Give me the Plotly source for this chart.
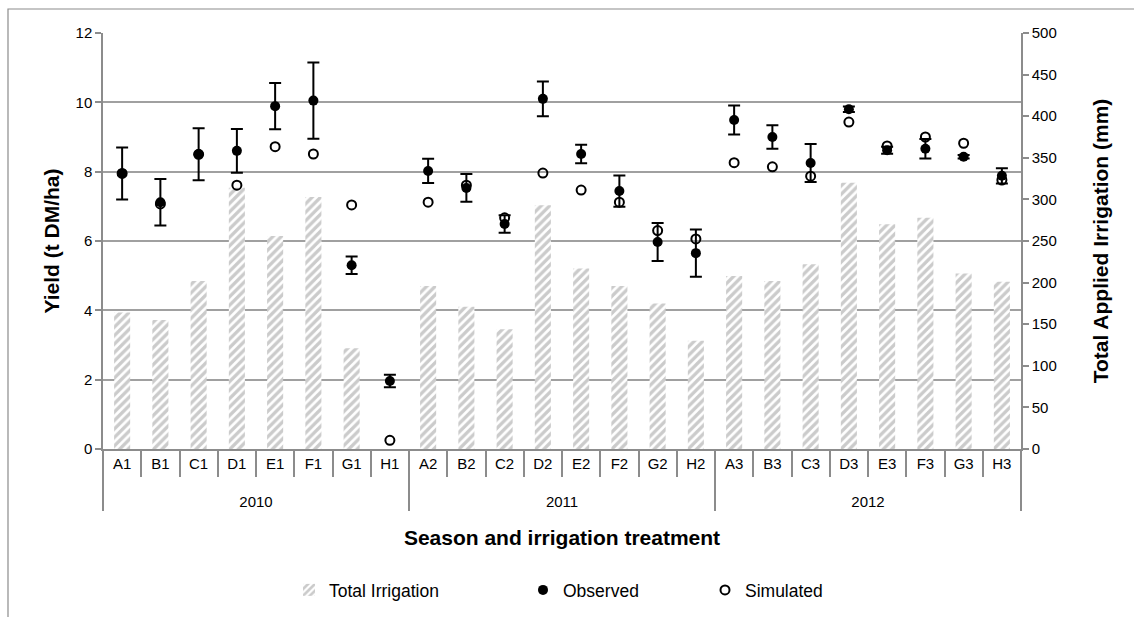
import plotly.graph_objects as go

years = ["2010"] * 8 + ["2011"] * 8 + ["2012"] * 8
treatments = ["A1", "B1", "C1", "D1", "E1", "F1", "G1", "H1",
              "A2", "B2", "C2", "D2", "E2", "F2", "G2", "H2",
              "A3", "B3", "C3", "D3", "E3", "F3", "G3", "H3"]

irrigation = [164, 155, 202, 314, 256, 303, 121, 0,
              196, 171, 144, 293, 217, 196, 175, 130,
              208, 202, 222, 320, 270, 278, 211, 201]

observed = [7.95, 7.12, 8.5, 8.6, 9.89, 10.05, 5.3, 1.96,
            8.02, 7.53, 6.49, 10.1, 8.51, 7.44, 5.97, 5.65,
            9.49, 9.0, 8.25, 9.8, 8.62, 8.66, 8.43, 7.88]

observed_err = [0.75, 0.67, 0.75, 0.63, 0.67, 1.1, 0.25, 0.18,
                0.35, 0.4, 0.25, 0.5, 0.27, 0.45, 0.55, 0.68,
                0.42, 0.34, 0.55, 0.08, 0.1, 0.28, 0.05, 0.22]

simulated = [7.95, 7.07, 8.5, 7.61, 8.72, 8.51, 7.04, 0.25,
             7.12, 7.61, 6.67, 7.96, 7.47, 7.12, 6.3, 6.06,
             8.26, 8.14, 7.87, 9.43, 8.74, 9.0, 8.82, 7.76]

FONT = "Liberation Sans, Arial, sans-serif"
GRID = "#a0a0a0"
AX = "#8c8c8c"

# plot-area geometry (px) used to place paper-referenced items
L, R, T, B = 103, 1021, 33, 449
PW, PH = R - L, B - T


def px_x(v):
    return (v - L) / PW


def px_y(v):
    return (B - v) / PH


# outer-level labels pushed one line lower (as in the reference layout)
year_labels = ["<br>" + y for y in years]
x = [year_labels, treatments]

fig = go.Figure()
fig.add_trace(go.Bar(
    x=x, y=irrigation, name="Total Irrigation", yaxis="y", legend="legend",
    marker=dict(color="white", line=dict(width=0),
                pattern=dict(shape="/", fgcolor="#979797", bgcolor="white",
                             size=6, solidity=0.55)),
))
fig.add_trace(go.Scatter(
    x=x, y=observed, name="Observed", yaxis="y2", mode="markers",
    legend="legend2",
    marker=dict(symbol="circle", size=10, color="black"),
    error_y=dict(type="data", array=observed_err, color="black",
                 thickness=2, width=6),
))
fig.add_trace(go.Scatter(
    x=x, y=simulated, name="Simulated", yaxis="y2", mode="markers",
    legend="legend3",
    marker=dict(symbol="circle-open", size=9, color="black",
                line=dict(width=2, color="black")),
))

leg_common = dict(y=px_y(590), yanchor="middle", xanchor="left",
                  font=dict(size=17.5, family=FONT, color="black"),
                  itemwidth=30, bgcolor="rgba(0,0,0,0)")

fig.update_layout(
    width=1134, height=617,
    margin=dict(l=L, r=1134 - R, t=T, b=617 - B, autoexpand=False),
    paper_bgcolor="white", plot_bgcolor="white",
    font=dict(family=FONT, size=15, color="#000000"),
    bargap=0.58,
    showlegend=True,
    legend=dict(x=px_x(289), **leg_common),
    legend2=dict(x=px_x(523), **leg_common),
    legend3=dict(x=px_x(705), **leg_common),
    xaxis=dict(
        type="multicategory", range=[-0.5, 23.5],
        showline=True, linecolor=AX, linewidth=1.5,
        ticks="outside", tickson="boundaries", ticklen=26, tickcolor=AX,
        tickwidth=1.5,
        showdividers=True, dividercolor=AX, dividerwidth=1.5,
        tickfont=dict(size=15, family=FONT),
        title=dict(text="<b>Season and irrigation treatment</b>",
                   font=dict(size=21, family=FONT), standoff=21),
        showgrid=False,
    ),
    yaxis=dict(
        side="right", range=[0, 500], dtick=50,
        showline=True, linecolor=AX, linewidth=1.5,
        ticks="outside", ticklen=6, tickcolor=AX, tickwidth=1.5,
        showgrid=False, zeroline=False,
        tickfont=dict(size=15, family=FONT),
        title=dict(text="<b>Total Applied Irrigation (mm)</b>",
                   font=dict(size=21, family=FONT), standoff=38),
    ),
    yaxis2=dict(
        side="left", overlaying="y", range=[0, 12], dtick=2,
        showline=True, linecolor=AX, linewidth=1.5,
        ticks="outside", ticklen=6, tickcolor=AX, tickwidth=1.5,
        showgrid=True, gridcolor=GRID, gridwidth=1.5, zeroline=False,
        tickfont=dict(size=15, family=FONT),
        title=dict(text="<b>Yield (t DM/ha)</b>",
                   font=dict(size=21, family=FONT), standoff=10),
    ),
    shapes=[dict(type="rect", xref="paper", yref="paper",
                 x0=px_x(8), x1=px_x(1140),
                 y0=px_y(640), y1=px_y(9),
                 line=dict(color="#8c8c8c", width=1.2), layer="below")],
)

fig.write_html("out.html", config={"displayModeBar": False},
               post_script="document.body.style.margin='0';")
